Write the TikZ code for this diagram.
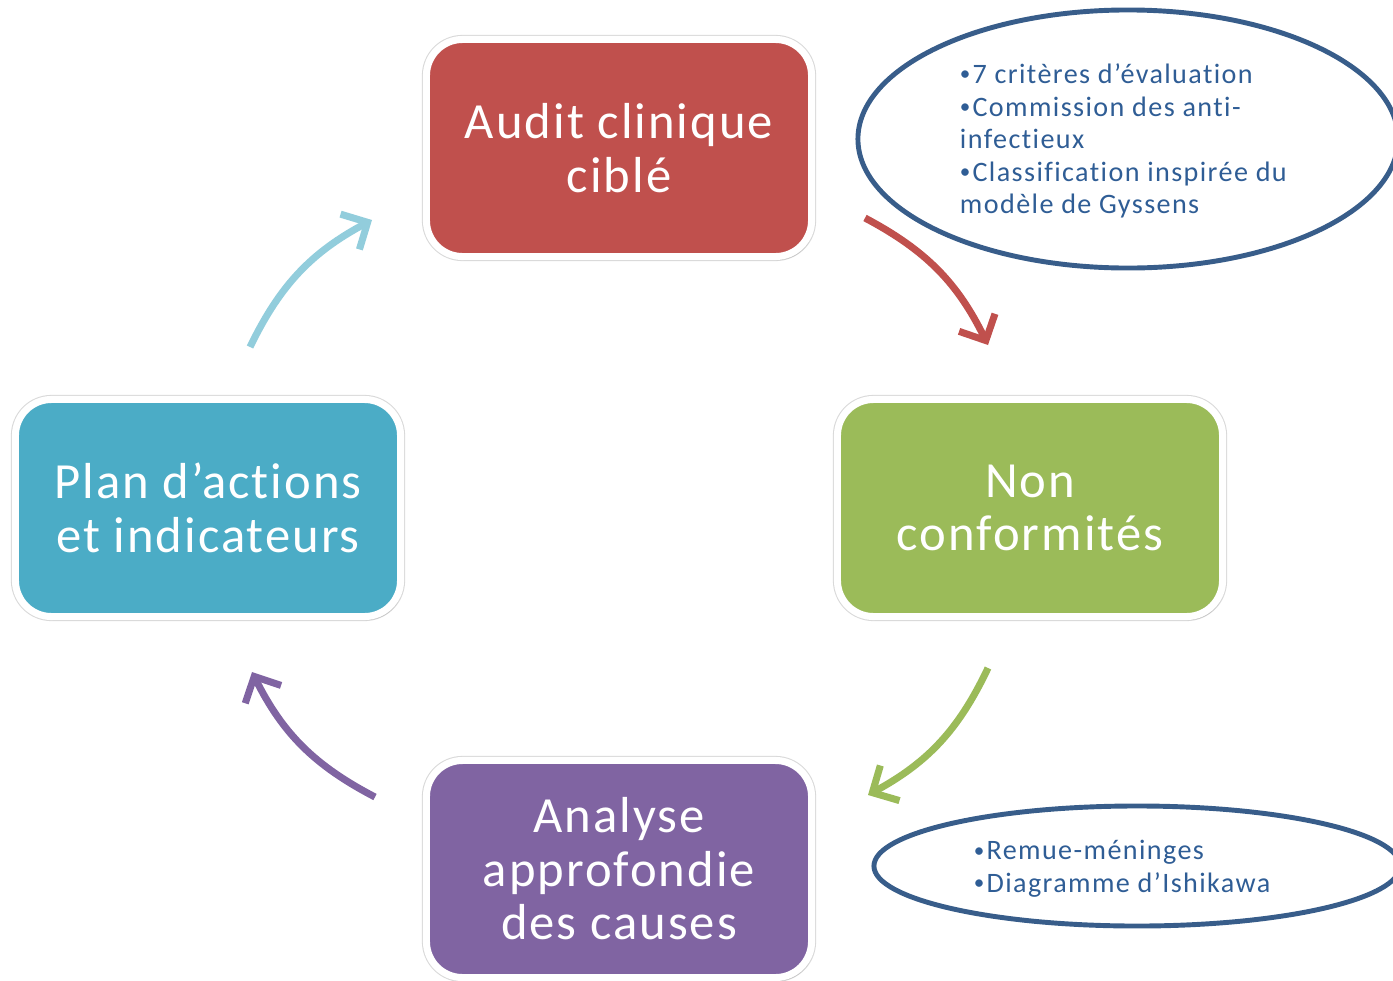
\documentclass[tikz,border=0pt]{standalone}
\usepackage{fontspec}
\setmainfont[Ligatures=NoCommon]{Carlito}
\newfontfamily\boxfont[Ligatures=NoCommon,LetterSpace=4]{Carlito}
\newfontfamily\notefont[Ligatures=NoCommon,LetterSpace=5]{Carlito}
\usepackage{xcolor}
\usetikzlibrary{arrows.meta,positioning,shapes.geometric,shadows}
\definecolor{auditred}{HTML}{C0504D}
\definecolor{nongreen}{HTML}{9BBB59}
\definecolor{analysepurple}{HTML}{8064A2}
\definecolor{planblue}{HTML}{4BACC6}
\definecolor{arrowblue}{HTML}{92CDDC}
\definecolor{noteblue}{HTML}{385D8A}
\definecolor{notetext}{HTML}{2F5D95}
\newcommand{\bul}{\raisebox{0.1em}{\fontsize{15}{15}\selectfont•}\hspace{1.5pt}}

\begin{document}
\begin{tikzpicture}[x=0.025cm,y=-0.025cm,
	stepbox/.style={rounded corners=0.9cm,draw=white,line width=5pt,
		minimum width=9.625cm,minimum height=5.425cm,align=center,text=white,
		font=\boxfont\fontsize{36}{38}\selectfont,
		preaction={draw=black!15,line width=6.5pt},
		drop shadow={shadow xshift=1.5pt,shadow yshift=-2.5pt,opacity=0.3}},
	cycle arrow/.style={line width=5pt,-{Straight Barb[length=5mm,width=10mm]},bend left=18},
	note/.style={ellipse,draw=noteblue,line width=3.5pt,inner sep=0pt},
	note text/.style={anchor=west,align=left,text=notetext,
		font=\notefont\fontsize{20}{23.2}\selectfont}]

	\useasboundingbox (0,0) rectangle (1393,980);

	% the four steps
	\node[stepbox,fill=auditred] (audit) at (619,148) {Audit clinique\\ciblé};
	\node[stepbox,fill=nongreen] (non) at (1030,508) {Non\\conformités};
	\node[stepbox,fill=analysepurple] (analyse) at (619,869) {Analyse\\approfondie\\des causes};
	\node[stepbox,fill=planblue] (plan) at (208,508) {Plan d’actions\\et indicateurs};

	% notes
	\node[note,minimum width=13.5cm,minimum height=6.45cm] (critere) at (1128,139) {};
	\node[note text] (criteretxt) at (955,141) {\bul 7 critères d’évaluation\\\bul Commission des anti-\\infectieux\\\bul Classification inspirée du\\modèle de Gyssens};
	\node[note,minimum width=13.15cm,minimum height=3cm] (causes) at (1137,866) {};
	\node[note text] (causestxt) at (969,869) {\bul Remue-méninges\\\bul Diagramme d’Ishikawa};

	% arrows
	\coordinate (r1) at (865,218);
	\coordinate (r2) at (988,345);
	\coordinate (g1) at (988,668);
	\coordinate (g2) at (868,795);
	\coordinate (p1) at (375,797);
	\coordinate (p2) at (252,672);
	\coordinate (b1) at (250,347);
	\coordinate (b2) at (372,220);

	\draw[cycle arrow,draw=auditred] (r1) to (r2);
	\draw[cycle arrow,draw=nongreen] (g1) to (g2);
	\draw[cycle arrow,draw=analysepurple] (p1) to (p2);
	\draw[cycle arrow,draw=arrowblue] (b1) to (b2);

\end{tikzpicture}
\end{document}
